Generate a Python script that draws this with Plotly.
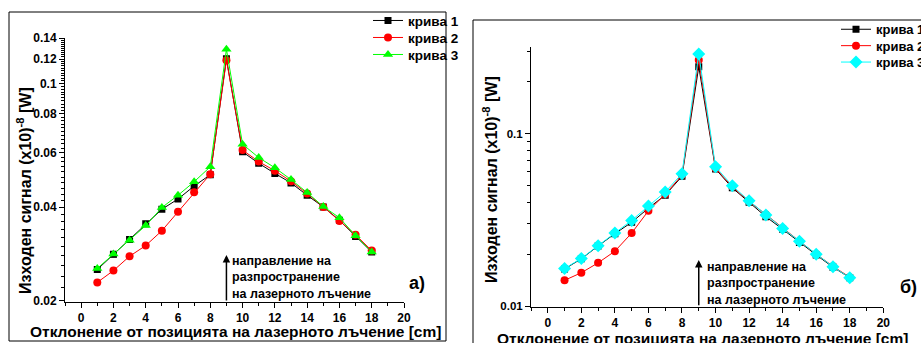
import plotly.graph_objects as go
import numpy as np

# ---------------- data ----------------
x_pos = list(range(1, 19))

# panel a) (left)
a_curve1 = [0.0252, 0.0282, 0.0315, 0.0354, 0.0394, 0.0425, 0.0468, 0.0509, 0.1203,
            0.0603, 0.0554, 0.0514, 0.0479, 0.0437, 0.0401, 0.0363, 0.0322, 0.0287]
a_curve2 = [0.0229, 0.0250, 0.0278, 0.0301, 0.0336, 0.0387, 0.0447, 0.0511, 0.1190,
            0.0611, 0.0561, 0.0524, 0.0485, 0.0443, 0.0401, 0.0361, 0.0326, 0.0290]
a_curve3 = [0.0254, 0.0283, 0.0313, 0.0349, 0.0399, 0.0437, 0.0483, 0.0540, 0.1290,
            0.0638, 0.0578, 0.0536, 0.0491, 0.0446, 0.0402, 0.0370, 0.0324, 0.0287]

# panel б) (right)
b_curve1 = [0.0164, 0.0188, 0.0223, 0.0263, 0.0306, 0.0370, 0.0440, 0.0566, 0.2450,
            0.0624, 0.0485, 0.0400, 0.0330, 0.0279, 0.0234, 0.0198, 0.0168, 0.0146]
b_curve2 = [0.0141, 0.0156, 0.0178, 0.0208, 0.0265, 0.0357, 0.0445, 0.0575, 0.2680,
            0.0630, 0.0492, 0.0405, 0.0340, 0.0283, 0.0238, 0.0200, 0.0170, 0.0147]
b_curve3 = [0.0165, 0.0189, 0.0224, 0.0265, 0.0314, 0.0380, 0.0459, 0.0586, 0.2900,
            0.0643, 0.0499, 0.0408, 0.0337, 0.0282, 0.0238, 0.0200, 0.0169, 0.0146]

series_names = ["крива 1", "крива 2", "крива 3"]
x_ticks = list(range(0, 21, 2))
x_minor = list(range(-1, 21, 2))
a_yticks = [0.02, 0.04, 0.06, 0.08, 0.1, 0.12, 0.14]
a_ytext = ["0.02", "0.04", "0.06", "0.08", "0.1", "0.12", "0.14"]
a_yminor = [round(0.02 + 0.002 * i, 3) for i in range(1, 61)]
b_yticks = [0.01, 0.1]
b_ytext = ["0.01", "0.1"]
b_yminor = [0.02, 0.03, 0.04, 0.05, 0.06, 0.07, 0.08, 0.09, 0.2, 0.3]

y_title = "Изходен сигнал (x10)<sup>-8</sup> [W]"
x_title = "Отклонение от позицията на лазерното лъчение [cm]"
arrow_text = "направление на<br>разпространение<br>на лазерното лъчение"

W, H = 921, 343
FONT = "Liberation Sans, Arial, sans-serif"


def px(x):
    return x / W


def py(y):
    return 1 - y / H


fig = go.Figure()

styles_a = [
    dict(color="black", symbol="square", size=7),
    dict(color="#ff0000", symbol="circle", size=8),
    dict(color="#00ff00", symbol="triangle-up", size=9),
]
styles_b = [
    dict(color="black", symbol="square", size=7),
    dict(color="#ff0000", symbol="circle", size=8),
    dict(color="#00ffff", symbol="diamond", size=10),
]
legend_ids_a = ["legend", "legend2", "legend3"]
legend_ids_b = ["legend4", "legend5", "legend6"]

for name, vals, st, lg in zip(series_names, [a_curve1, a_curve2, a_curve3], styles_a, legend_ids_a):
    fig.add_trace(go.Scatter(
        x=x_pos, y=vals, name=name, mode="lines+markers", xaxis="x", yaxis="y",
        line=dict(color=st["color"], width=1),
        marker=dict(color=st["color"], symbol=st["symbol"], size=st["size"]),
        legend=lg,
    ))

for name, vals, st, lg in zip(series_names, [b_curve1, b_curve2, b_curve3], styles_b, legend_ids_b):
    fig.add_trace(go.Scatter(
        x=x_pos, y=vals, name=name, mode="lines+markers", xaxis="x2", yaxis="y2",
        line=dict(color=st["color"], width=1),
        marker=dict(color=st["color"], symbol=st["symbol"], size=st["size"]),
        legend=lg,
    ))

tickfont = dict(family=FONT, size=12, color="black", weight="bold")

common_x = dict(
    range=[-1, 20], tickmode="array", tickvals=x_ticks, ticks="outside", ticklen=5,
    tickwidth=1, tickcolor="black", showline=True, linecolor="black", linewidth=1,
    showgrid=False, zeroline=False, tickfont=tickfont, automargin=False,
    minor=dict(tickmode="array", tickvals=x_minor, ticks="outside", ticklen=3,
               tickcolor="black", tickwidth=1),
)

fig.update_layout(
    width=W, height=H, margin=dict(l=0, r=0, t=0, b=0, autoexpand=False),
    paper_bgcolor="white", plot_bgcolor="white",
    font=dict(family=FONT, color="black"),
    xaxis=dict(domain=[px(65), px(404)], anchor="y", **common_x),
    yaxis=dict(
        domain=[py(302), py(38.3)], anchor="x", type="log", automargin=False,
        range=[-1.7032, -0.8539], tickmode="array", tickvals=a_yticks, ticktext=a_ytext,
        ticks="outside", ticklen=5, tickwidth=1, tickcolor="black",
        showline=True, linecolor="black", linewidth=1, showgrid=False, zeroline=False,
        tickfont=tickfont,
        minor=dict(tickmode="array", tickvals=a_yminor, ticks="outside", ticklen=3,
                   tickcolor="black", tickwidth=1),
    ),
    xaxis2=dict(domain=[px(531), px(883.3)], anchor="y2", **common_x),
    yaxis2=dict(
        domain=[py(306.7), py(46.7)], anchor="x2", type="log", automargin=False,
        range=[-2.004, -0.495], tickmode="array", tickvals=b_yticks, ticktext=b_ytext,
        ticks="outside", ticklen=5, tickwidth=1, tickcolor="black",
        showline=True, linecolor="black", linewidth=1, showgrid=False, zeroline=False,
        tickfont=dict(family=FONT, size=11.5, color="black", weight="bold"),
        minor=dict(tickmode="array", tickvals=b_yminor, ticks="outside", ticklen=3,
                   tickcolor="black", tickwidth=1),
    ),
    showlegend=True,
)

# one legend box per entry so the row spacing can follow the reference
leg_font_a = dict(family=FONT, size=13.5, color="black", weight="bold")
leg_font_b = dict(family=FONT, size=13, color="black", weight="bold")
for i, lg in enumerate(legend_ids_a):
    fig.update_layout({lg: dict(
        x=px(368), y=py(20.7 + 17 * i), xanchor="left", yanchor="middle",
        bgcolor="rgba(0,0,0,0)", borderwidth=0, font=leg_font_a, itemwidth=30)})
for i, lg in enumerate(legend_ids_b):
    fig.update_layout({lg: dict(
        x=px(836), y=py(29.3 + 16.4 * i), xanchor="left", yanchor="middle",
        bgcolor="rgba(0,0,0,0)", borderwidth=0, font=leg_font_b, itemwidth=30)})

# frames around panels
fig.add_shape(type="rect", xref="paper", yref="paper",
              x0=px(9), y0=py(341), x1=px(446), y1=py(12),
              line=dict(color="black", width=1), fillcolor="rgba(0,0,0,0)")
fig.add_shape(type="rect", xref="paper", yref="paper",
              x0=px(473), y0=py(350), x1=px(930), y1=py(20),
              line=dict(color="black", width=1), fillcolor="rgba(0,0,0,0)")

peak_x = x_pos[int(np.argmax(a_curve1))]

ann = []
# arrows
ann.append(dict(x=peak_x, y=py(255), xref="x", yref="paper", ax=0, ay=47,
                axref="pixel", ayref="pixel", showarrow=True, arrowhead=2,
                arrowsize=1, arrowwidth=1.5, arrowcolor="black", text=""))
ann.append(dict(x=peak_x, y=py(260), xref="x2", yref="paper", ax=0, ay=46.7,
                axref="pixel", ayref="pixel", showarrow=True, arrowhead=2,
                arrowsize=1, arrowwidth=1.5, arrowcolor="black", text=""))
# arrow texts
ann.append(dict(x=px(230), y=py(252), xref="paper", yref="paper", xanchor="left",
                yanchor="top", align="left", showarrow=False, text=arrow_text,
                font=dict(family=FONT, size=12.5, color="black", weight="bold")))
ann.append(dict(x=px(704.5), y=py(258), xref="paper", yref="paper", xanchor="left",
                yanchor="top", align="left", showarrow=False, text=arrow_text,
                font=dict(family=FONT, size=12.5, color="black", weight="bold")))
# panel labels
ann.append(dict(x=px(417), y=py(283), xref="paper", yref="paper", showarrow=False,
                xanchor="center", yanchor="middle",
                text="а)", font=dict(family=FONT, size=18, color="black", weight="bold")))
ann.append(dict(x=px(908), y=py(287), xref="paper", yref="paper", showarrow=False,
                xanchor="center", yanchor="middle",
                text="б)", font=dict(family=FONT, size=18, color="black", weight="bold")))
# axis titles
ann.append(dict(x=px(24), y=py(191), xref="paper", yref="paper", showarrow=False,
                xanchor="center", yanchor="middle", textangle=-90, text=y_title,
                font=dict(family=FONT, size=16, color="black", weight="bold")))
ann.append(dict(x=px(490), y=py(180), xref="paper", yref="paper", showarrow=False,
                xanchor="center", yanchor="middle", textangle=-90, text=y_title,
                font=dict(family=FONT, size=16, color="black", weight="bold")))
ann.append(dict(x=px(235.5), y=py(331), xref="paper", yref="paper", showarrow=False,
                xanchor="center", yanchor="middle", text=x_title,
                font=dict(family=FONT, size=15.5, color="black", weight="bold")))
ann.append(dict(x=px(702), y=py(338), xref="paper", yref="paper", showarrow=False,
                xanchor="center", yanchor="middle", text=x_title,
                font=dict(family=FONT, size=15.5, color="black", weight="bold")))
fig.update_layout(annotations=ann)

fig.write_html("out.html")
